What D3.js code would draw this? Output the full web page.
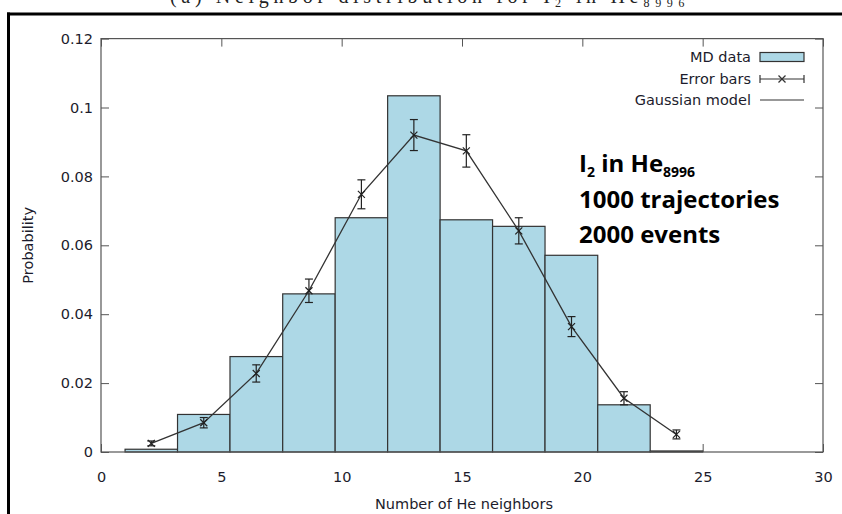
<!DOCTYPE html>
<html>
<head>
<meta charset="utf-8">
<script src="https://cdn.jsdelivr.net/npm/d3@7"></script>
<style>
  html, body { margin: 0; padding: 0; background: #fff; }
  svg { display: block; }
</style>
</head>
<body>
<svg id="chart" width="842" height="514"></svg>
<script>
// ---------------- data ----------------
const titleText = "(a) Neighbor distribution for I\u2082 in He\u2088\u2089\u2089\u2086";
const binEdges = [1, 3.18, 5.36, 7.55, 9.73, 11.91, 14.09, 16.27, 18.45, 20.64, 22.82, 25];
const mdProbability = [0.0008, 0.0109, 0.0277, 0.0459, 0.0680, 0.1034, 0.0674, 0.0655, 0.0571, 0.0137, 0.0003];
const errorX = [2.09, 4.27, 6.45, 8.64, 10.82, 13.0, 15.18, 17.36, 19.55, 21.73, 23.91];
const errorY = [0.0025, 0.0085, 0.0228, 0.0468, 0.0748, 0.0920, 0.0874, 0.0642, 0.0364, 0.0156, 0.0051];
const errorDelta = [0.0007, 0.0015, 0.0025, 0.0034, 0.0042, 0.0045, 0.0047, 0.0038, 0.0029, 0.0019, 0.0013];
const xTicks = [0, 5, 10, 15, 20, 25, 30];
const yTicks = [0, 0.02, 0.04, 0.06, 0.08, 0.1, 0.12];
const legendLabels = ["MD data", "Error bars", "Gaussian model"];
const xTitle = "Number of He neighbors";
const yTitle = "Probability";

// ---------------- layout ----------------
const svg = d3.select("#chart");
const L = 101, R = 823, T = 38.6, B = 452;
const x = d3.scaleLinear().domain([0, 30]).range([L, R]);
const y = d3.scaleLinear().domain([0, 0.12]).range([B, T]);
const axisFont = "'DejaVu Sans', sans-serif";
const axisSize = 14.5;
const textColor = "#1c1c2c";
const borderColor = "#555";

// figure frame (document cell border)
svg.append("line").attr("x1", 7).attr("x2", 842).attr("y1", 14).attr("y2", 14)
  .attr("stroke", "#000").attr("stroke-width", 3);
svg.append("line").attr("x1", 8.5).attr("x2", 8.5).attr("y1", 12.5).attr("y2", 514)
  .attr("stroke", "#000").attr("stroke-width", 3);

// caption (cropped at the top in the reference)
svg.append("text").attr("x", 170).attr("y", 3)
  .attr("font-family", "'Liberation Serif', serif").attr("font-size", 20)
  .attr("fill", "#222").attr("textLength", 515).attr("lengthAdjust", "spacing")
  .text(titleText);

// ticks (mirrored, inward) drawn below the bars
const tickLen = 8;
const axB = svg.append("g").attr("transform", `translate(0,${B})`)
  .call(d3.axisBottom(x).tickValues(xTicks).tickSize(-tickLen).tickPadding(20).tickFormat(d3.format("d")));
const axT = svg.append("g").attr("transform", `translate(0,${T})`)
  .call(d3.axisTop(x).tickValues(xTicks).tickSize(-tickLen).tickFormat(""));
const axL = svg.append("g").attr("transform", `translate(${L},0)`)
  .call(d3.axisLeft(y).tickValues(yTicks).tickSize(-tickLen).tickPadding(8).tickFormat(d => d === 0 ? "0" : String(+d.toFixed(2))));
const axR = svg.append("g").attr("transform", `translate(${R},0)`)
  .call(d3.axisRight(y).tickValues(yTicks).tickSize(-tickLen).tickFormat(""));
[axB, axT, axL, axR].forEach(g => {
  g.select(".domain").remove();
  g.selectAll(".tick line").attr("stroke", borderColor).attr("stroke-width", 1);
  g.selectAll(".tick text").attr("font-family", axisFont).attr("font-size", axisSize).attr("fill", textColor);
});

// bars
svg.append("g").selectAll("rect").data(mdProbability).join("rect")
  .attr("x", (d, i) => x(binEdges[i]))
  .attr("width", (d, i) => x(binEdges[i + 1]) - x(binEdges[i]))
  .attr("y", d => y(d))
  .attr("height", d => B - y(d))
  .attr("fill", "#add8e6").attr("stroke", "#333").attr("stroke-width", 1.2);

// plot border
svg.append("rect").attr("x", L).attr("y", T).attr("width", R - L).attr("height", B - T)
  .attr("fill", "none").attr("stroke", borderColor).attr("stroke-width", 1.2);

// connecting line
const pts = errorX.map((v, i) => [v, errorY[i]]);
svg.append("path").datum(pts)
  .attr("d", d3.line().x(d => x(d[0])).y(d => y(d[1])))
  .attr("fill", "none").attr("stroke", "#333").attr("stroke-width", 1.3);

// error bars + x markers
const eb = svg.append("g").attr("stroke", "#222").attr("stroke-width", 1.2);
const cap = 4, mk = 3.5;
pts.forEach((p, i) => {
  const cx = x(p[0]), cy = y(p[1]);
  const y1 = y(p[1] + errorDelta[i]), y2 = y(p[1] - errorDelta[i]);
  eb.append("line").attr("x1", cx).attr("x2", cx).attr("y1", y1).attr("y2", y2);
  eb.append("line").attr("x1", cx - cap).attr("x2", cx + cap).attr("y1", y1).attr("y2", y1);
  eb.append("line").attr("x1", cx - cap).attr("x2", cx + cap).attr("y1", y2).attr("y2", y2);
  eb.append("line").attr("x1", cx - mk).attr("x2", cx + mk).attr("y1", cy - mk).attr("y2", cy + mk);
  eb.append("line").attr("x1", cx - mk).attr("x2", cx + mk).attr("y1", cy + mk).attr("y2", cy - mk);
});

// axis titles
svg.append("text").attr("x", (L + R) / 2 + 2).attr("y", 509).attr("text-anchor", "middle")
  .attr("font-family", axisFont).attr("font-size", axisSize).attr("fill", textColor).text(xTitle);
svg.append("text").attr("transform", `translate(33,${(T + B) / 2}) rotate(-90)`).attr("text-anchor", "middle")
  .attr("font-family", axisFont).attr("font-size", axisSize).attr("fill", textColor).text(yTitle);

// legend
const legRows = [57, 79, 100];
const lg = svg.append("g");
legendLabels.forEach((lab, i) => {
  lg.append("text").attr("x", 751).attr("y", legRows[i]).attr("dy", "0.35em").attr("text-anchor", "end")
    .attr("font-family", axisFont).attr("font-size", axisSize).attr("fill", textColor).text(lab);
});
lg.append("rect").attr("x", 760).attr("y", legRows[0] - 4.5).attr("width", 44).attr("height", 9)
  .attr("fill", "#add8e6").attr("stroke", "#333").attr("stroke-width", 1.2);
const ey = legRows[1];
[[760, 804, ey, ey], [760, 760, ey - 4, ey + 4], [804, 804, ey - 4, ey + 4],
 [782 - mk, 782 + mk, ey - mk, ey + mk], [782 - mk, 782 + mk, ey + mk, ey - mk],
 [760, 804, legRows[2], legRows[2]]].forEach(s => {
  lg.append("line").attr("x1", s[0]).attr("x2", s[1]).attr("y1", s[2]).attr("y2", s[3])
    .attr("stroke", "#333").attr("stroke-width", 1.2);
});

// annotation
const annFont = "'Open Sans', Lato, sans-serif";
const ann = svg.append("g").attr("font-family", annFont).attr("font-weight", "bold").attr("fill", "#000").attr("font-size", 24);
const t1 = ann.append("text").attr("x", 579).attr("y", 172);
t1.append("tspan").text("I");
t1.append("tspan").attr("font-size", 14).attr("dy", 5).text("2");
t1.append("tspan").attr("dy", -5).text(" in He");
t1.append("tspan").attr("font-size", 14).attr("dy", 5).text("8996");
ann.append("text").attr("x", 579).attr("y", 208).text("1000 trajectories");
ann.append("text").attr("x", 579).attr("y", 243).text("2000 events");
</script>
</body>
</html>
